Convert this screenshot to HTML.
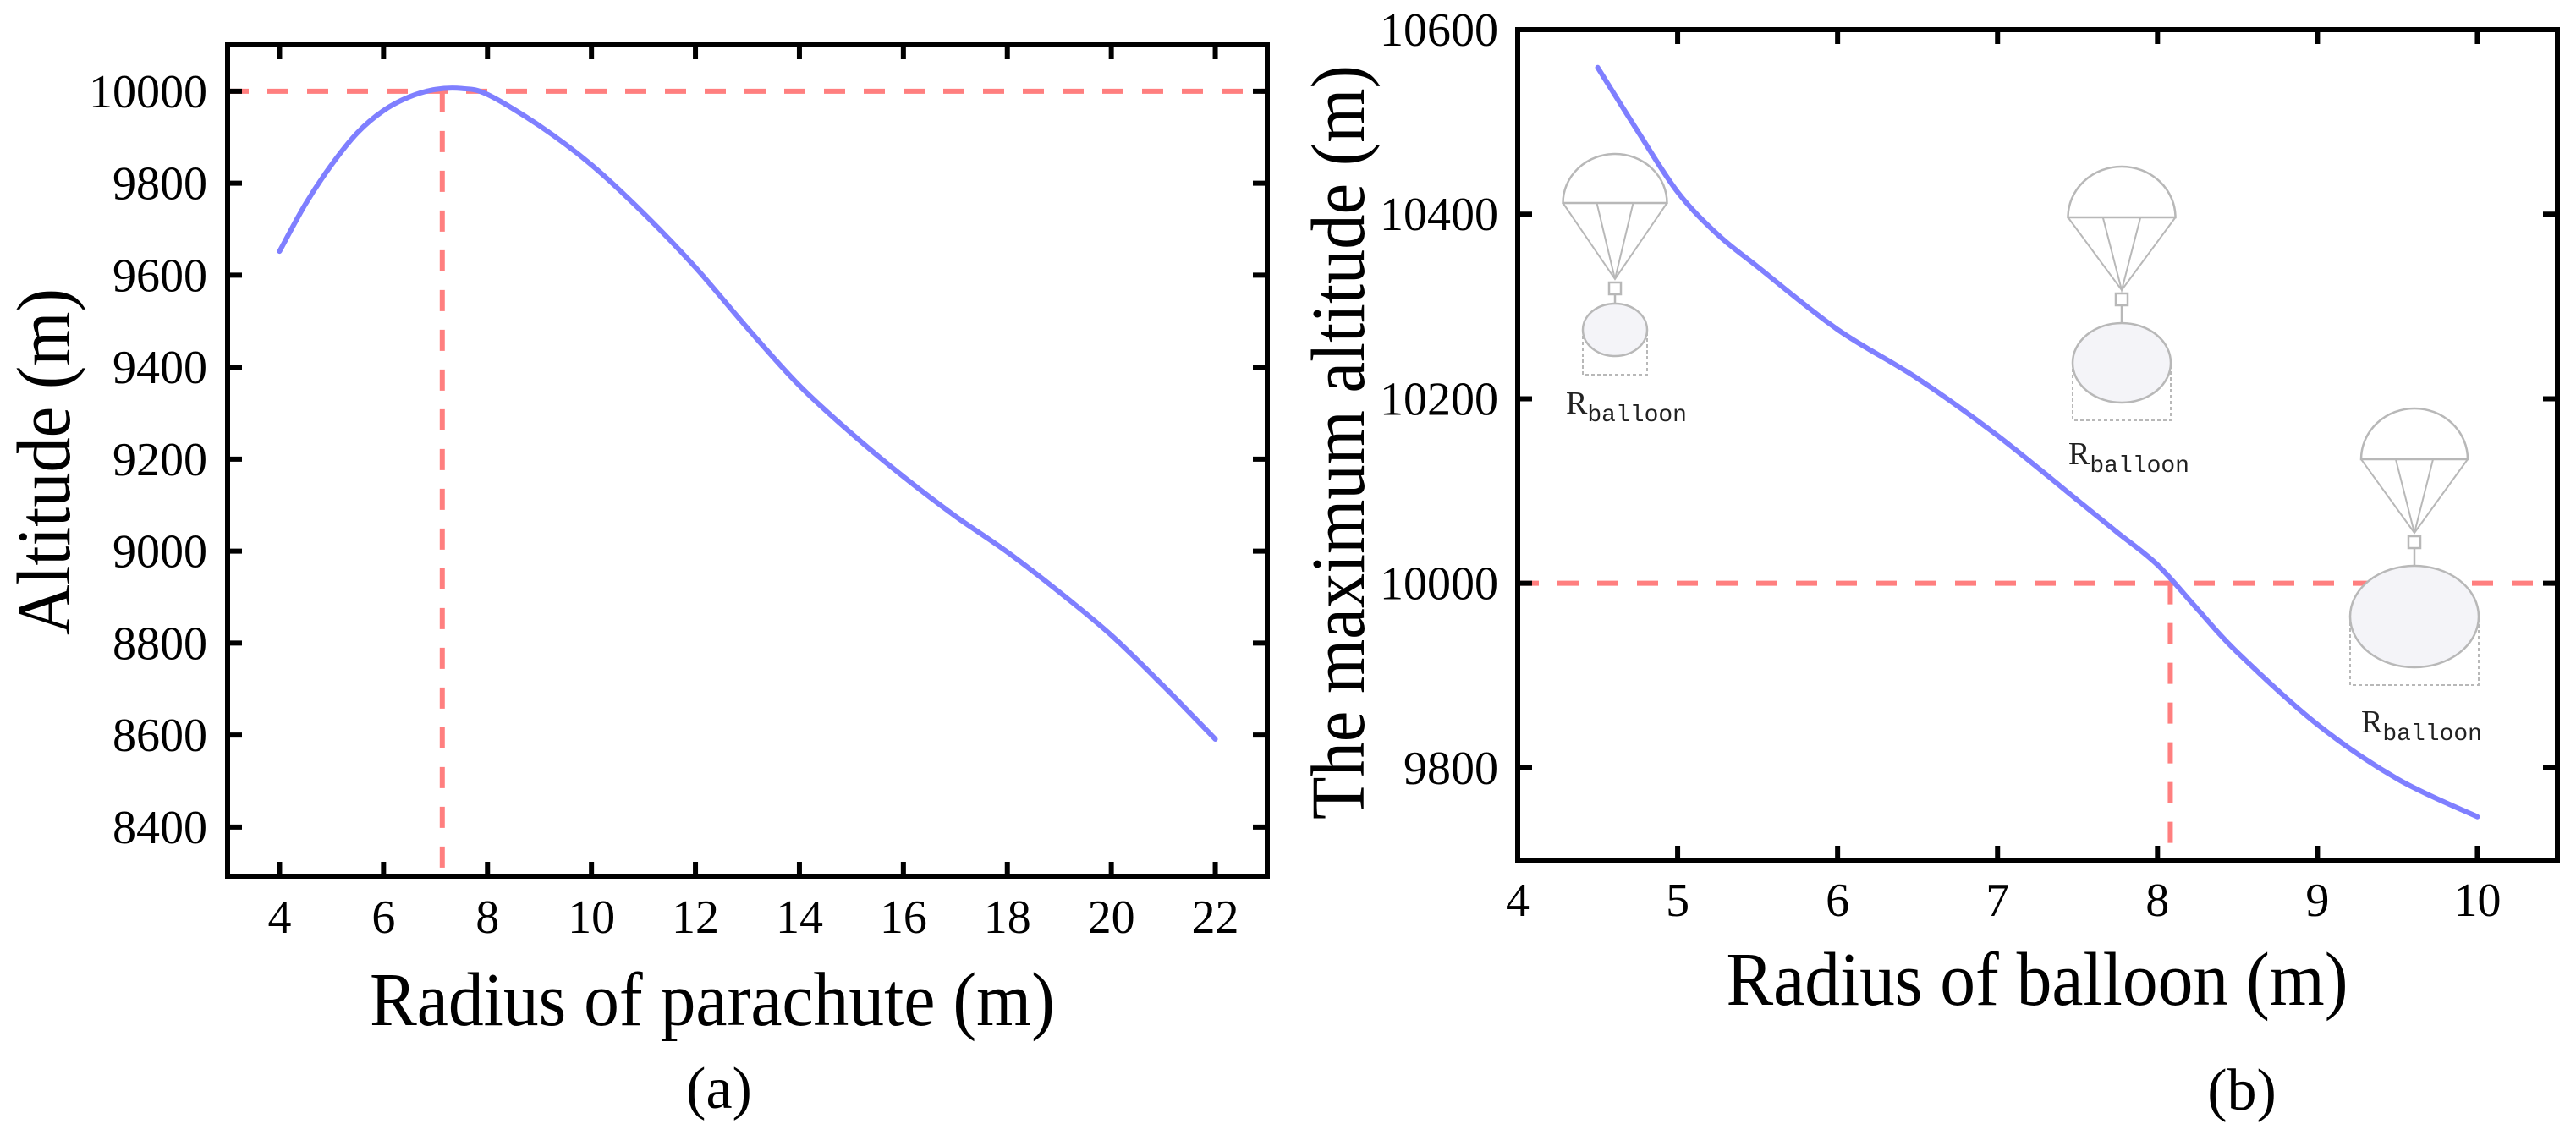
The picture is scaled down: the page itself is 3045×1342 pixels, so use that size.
<!DOCTYPE html>
<html><head><meta charset="utf-8"><style>
html,body{margin:0;padding:0;background:#fff;}
svg{display:block;font-family:"Liberation Serif",serif;}
</style></head><body>
<svg id="chart" width="3045" height="1342" viewBox="0 0 3045 1342" xmlns="http://www.w3.org/2000/svg">
<g id="pa"></g>
<g id="pb"></g>
</svg>
<script>
const NS="http://www.w3.org/2000/svg";
// Panel (a) data
const aX=[4,4.5,5,5.5,6,6.5,7,7.5,8,9,10,11,12,13,14,15,16,17,18,19,20,21,22];
const aY=[9652,9755,9840,9910,9958,9988,10004,10006,9993,9925,9840,9735,9617,9485,9360,9256,9162,9076,8998,8911,8817,8707,8591];
const aXTicks=[4,6,8,10,12,14,16,18,20,22];
const aYTicks=[8400,8600,8800,9000,9200,9400,9600,9800,10000];
const aRefX=[7.13];
const aRefY=[10000];
// Panel (b) data
const bX=[4.5,4.75,5,5.25,5.5,6,6.5,7,7.5,7.75,8,8.25,8.5,9,9.5,10];
const bY=[10559,10490,10424,10378,10343,10275,10222,10160,10090,10055,10020,9972,9925,9847,9788,9747];
const bXTicks=[4,5,6,7,8,9,10];
const bYTicks=[9800,10000,10200,10400,10600];
const bRefX=[8.08];
const bRefY=[10000];

function el(parent,tag,attrs,text){const e=document.createElementNS(NS,tag);for(const k in attrs)e.setAttribute(k,attrs[k]);if(text!==undefined)e.textContent=text;parent.appendChild(e);return e;}
function smooth(pts){let d="M"+pts[0][0]+","+pts[0][1];for(let i=0;i<pts.length-1;i++){const p0=pts[Math.max(i-1,0)],p1=pts[i],p2=pts[i+1],p3=pts[Math.min(i+2,pts.length-1)];const c1=[p1[0]+(p2[0]-p0[0])/6,p1[1]+(p2[1]-p0[1])/6],c2=[p2[0]-(p3[0]-p1[0])/6,p2[1]-(p3[1]-p1[1])/6];d+=" C"+c1[0]+","+c1[1]+" "+c2[0]+","+c2[1]+" "+p2[0]+","+p2[1];}return d;}

function panel(g,cfg){
  const sx=v=>cfg.L+(v-cfg.x0)/(cfg.x1-cfg.x0)*(cfg.R-cfg.L);
  const sy=v=>cfg.B-(v-cfg.y0)/(cfg.y1-cfg.y0)*(cfg.B-cfg.T);
  cfg.refY.forEach(v=>{const l=el(g,"line",{x1:cfg.L,x2:cfg.R,y1:sy(v),y2:sy(v),stroke:"#ff7f7f","stroke-width":6,"stroke-dasharray":"25,22"});
    
    });
  cfg.refX.forEach(v=>{const l=el(g,"line",{x1:sx(v),x2:sx(v),y1:sy(cfg.refY[0]),y2:cfg.B,stroke:"#ff7f7f","stroke-width":6,"stroke-dasharray":"25,22"});
    
    });
  const pts=cfg.xs.map((x,i)=>[sx(x),sy(cfg.ys[i])]);
  const p=el(g,"path",{d:smooth(pts),fill:"none",stroke:"#7f7fff","stroke-width":6,"stroke-linecap":"round"});
  
  
  const f=el(g,"rect",{x:cfg.L,y:cfg.T,width:cfg.R-cfg.L,height:cfg.B-cfg.T,fill:"none",stroke:"#000","stroke-width":6});
  
  
  cfg.xt.forEach(v=>{const x=sx(v);
    el(g,"line",{x1:x,x2:x,y1:cfg.B,y2:cfg.B-17,stroke:"#000","stroke-width":6});
    el(g,"line",{x1:x,x2:x,y1:cfg.T,y2:cfg.T+17,stroke:"#000","stroke-width":6});
    const t=el(g,"text",{x:x,y:cfg.xlabY,"font-size":56,"text-anchor":"middle"},String(v));
    
    });
  cfg.yt.forEach(v=>{const y=sy(v);
    el(g,"line",{x1:cfg.L,x2:cfg.L+17,y1:y,y2:y,stroke:"#000","stroke-width":6});
    el(g,"line",{x1:cfg.R,x2:cfg.R-17,y1:y,y2:y,stroke:"#000","stroke-width":6});
    const t=el(g,"text",{x:cfg.ylabX,y:y+19,"font-size":56,"text-anchor":"end"},String(v));
    
    });
  const xt=el(g,"text",{x:cfg.xtX,y:cfg.xtY,"font-size":90,"text-anchor":"middle",textLength:cfg.xtLen,lengthAdjust:"spacingAndGlyphs"},cfg.xTitle);
  
  
  const yt=el(g,"text",{x:0,y:0,"font-size":90,"text-anchor":"middle",textLength:cfg.ytLen,lengthAdjust:"spacingAndGlyphs",transform:`translate(${cfg.ytX},${cfg.ytY}) rotate(-90)`},cfg.yTitle);
  
  
  const cap=el(g,"text",{x:cfg.capX,y:cfg.capY,"font-size":70,"text-anchor":"middle"},cfg.cap);
  
  
}
panel(document.getElementById("pa"),{L:269,R:1498,T:53,B:1036,x0:3,x1:23,y0:8293,y1:10101,xs:aX,ys:aY,xt:aXTicks,yt:aYTicks,refX:aRefX,refY:aRefY,
  xlabY:1103,ylabX:245,xTitle:"Radius of parachute (m)",xtX:842,xtY:1212,xtLen:810,yTitle:"Altitude (m)",ytX:82,ytY:546,ytLen:410,cap:"(a)",capX:850,capY:1310});
panel(document.getElementById("pb"),{L:1794,R:3023,T:35,B:1017,x0:4,x1:10.5,y0:9700,y1:10600,xs:bX,ys:bY,xt:bXTicks,yt:bYTicks,refX:bRefX,refY:bRefY,
  xlabY:1083,ylabX:1771,xTitle:"Radius of balloon (m)",xtX:2408,xtY:1188,xtLen:735,yTitle:"The maximum altitude (m)",ytX:1612,ytY:523,ytLen:892,cap:"(b)",capX:2650,capY:1312});

const icons=[
 {cx:1909,w:123,top:182,base:240,conv:330,by:390,rx:38,ry:31,rb:443,lx:1851,ly:489},
 {cx:2508,w:127,top:197,base:257,conv:343,by:429,rx:58,ry:47,rb:497,lx:2445,ly:549},
 {cx:2854,w:126,top:483,base:543,conv:630,by:729,rx:76,ry:60,rb:810,lx:2791,ly:866}
];
const pb=document.getElementById("pb");
icons.forEach(c=>{
  const g=el(pb,"g",{stroke:"#b8b8b8","stroke-width":2.5,fill:"none"});
  
  
  const h=c.w/2;
  el(g,"path",{d:`M${c.cx-h},${c.base} A${h},${c.base-c.top} 0 0 1 ${c.cx+h},${c.base} Z`});
  el(g,"path",{d:`M${c.cx-h},${c.base} L${c.cx},${c.conv} L${c.cx+h},${c.base} M${c.cx-h*0.35},${c.base} L${c.cx},${c.conv} L${c.cx+h*0.35},${c.base}`,"stroke-width":2});
  el(g,"rect",{x:c.cx-7,y:c.conv+4,width:14,height:14});
  el(g,"line",{x1:c.cx,x2:c.cx,y1:c.conv+18,y2:c.by-c.ry});
  el(g,"ellipse",{cx:c.cx,cy:c.by,rx:c.rx,ry:c.ry,fill:"#f4f4f8"});
  el(g,"path",{d:`M${c.cx-c.rx},${c.by} L${c.cx-c.rx},${c.rb} L${c.cx+c.rx},${c.rb} L${c.cx+c.rx},${c.by}`,"stroke-dasharray":"4,3","stroke-width":2});
  const t=el(pb,"text",{x:c.lx,y:c.ly,"font-size":38,fill:"#222"});
  
  
  el(t,"tspan",{},"R");
  el(t,"tspan",{"font-size":28,dy:9,"font-family":"Liberation Mono, monospace"},"balloon");
});
</script>
</body></html>
